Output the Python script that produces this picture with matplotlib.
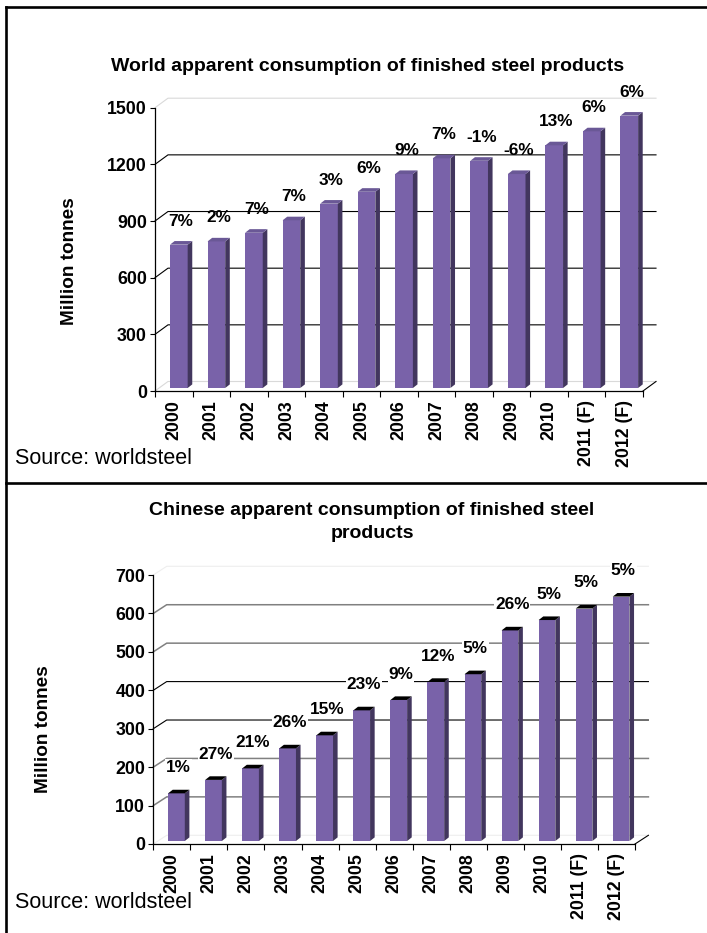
import numpy as np
import matplotlib
matplotlib.use("Agg")
import matplotlib.pyplot as plt
from matplotlib.patches import Polygon
from matplotlib.lines import Line2D

plt.rcParams["font.family"] = ["Liberation Sans", "DejaVu Sans"]

# ----- data -----
years = ["2000", "2001", "2002", "2003", "2004", "2005", "2006", "2007",
         "2008", "2009", "2010", "2011 (F)", "2012 (F)"]

world_mt = [759, 776, 822, 888, 976, 1039, 1133, 1216, 1203, 1133, 1285, 1359, 1442]
world_growth = ["7%", "2%", "7%", "7%", "3%", "6%", "9%", "7%", "-1%", "-6%",
                "13%", "6%", "6%"]
world_ticks = [0, 300, 600, 900, 1200, 1500]

china_mt = [124, 159, 189, 241, 275, 340, 367, 414, 434, 548, 575, 605, 636]
china_growth = ["1%", "27%", "21%", "26%", "15%", "23%", "9%", "12%", "5%", "26%",
                "5%", "5%", "5%"]
china_ticks = [0, 100, 200, 300, 400, 500, 600, 700]

W, H = 707, 933
fig = plt.figure(figsize=(W / 100, H / 100), dpi=100)

FRONT = "#7962a9"
SIDE = "#42365e"
LIGHT = "#d9d9d9"


def add_axes(left, top, right, bottom):
    return fig.add_axes([left / W, 1 - bottom / H, (right - left) / W, (bottom - top) / H])


def draw_panel(ax, values, growth, ticks, grid_colors, top_color, dx_px, dy_px,
               label_off, bw, label_box):
    n = len(values)
    ymax = ticks[-1]
    ax.set_xlim(-0.5, n - 0.5)
    ax.set_ylim(0, ymax)
    pos = ax.get_position()
    sx = pos.width * W / n
    sy = pos.height * H / ymax
    dx, dy = dx_px / sx, dy_px / sy

    # back wall gridlines with the little diagonals to the front axis
    for v, c in zip(ticks, grid_colors):
        lw = 1.1 if c == "#808080" else 0.8
        ax.plot([-0.5, -0.5 + dx, n - 0.5 + dx], [v, v + dy, v + dy],
                color=c, lw=lw, clip_on=False, zorder=1)
    ax.plot([n - 0.5, n - 0.5 + dx], [0, dy], color="black", lw=0.8,
            clip_on=False, zorder=1)

    # pseudo-3d bars
    base = 3 / sy
    sdx, sdy = 4.6 / sx, 3.6 / sy
    for i, (v, lbl) in enumerate(zip(values, growth)):
        x0 = i - 0.5 + 0.4
        x1 = x0 + bw
        top = base + v
        ax.add_patch(Polygon([(x0, base), (x1, base), (x1, top), (x0, top)],
                             closed=True, fc=FRONT, ec="none", zorder=3))
        ax.add_patch(Polygon([(x1, base), (x1 + sdx, base + sdy), (x1 + sdx, top + sdy), (x1, top)],
                             closed=True, fc=SIDE, ec="none", zorder=3))
        ax.add_patch(Polygon([(x0, top), (x1, top), (x1 + sdx, top + sdy), (x0 + sdx, top + sdy)],
                             closed=True, fc=top_color, ec="none", zorder=3))
        box = dict(boxstyle="square,pad=0.05", fc="white", ec="none") if label_box else None
        ax.annotate(lbl, (x0 + bw / 2 + sdx / 2, top + sdy), xytext=(0, label_off),
                    textcoords="offset pixels", ha="center", va="center",
                    fontsize=12.4, fontweight="bold", zorder=4, bbox=box,
                    annotation_clip=False)

    for s in ["top", "right"]:
        ax.spines[s].set_visible(False)
    for s in ["left", "bottom"]:
        ax.spines[s].set_color("black")
        ax.spines[s].set_linewidth(0.9)
        ax.spines[s].set_zorder(5)
    ax.set_yticks(ticks)
    ax.set_yticklabels([str(t) for t in ticks], fontsize=12.8, fontweight="bold")
    ax.tick_params(axis="y", direction="out", length=3.6, width=0.8, pad=2.2)
    ax.set_xticks(np.arange(n))
    ax.set_xticklabels(years, rotation=90, fontsize=12.8, fontweight="bold",
                       va="top", ha="center")
    ax.set_xticks(np.arange(-0.5, n, 1), minor=True)
    ax.tick_params(axis="x", which="major", length=0, pad=6.5)
    ax.tick_params(axis="x", which="minor", direction="out", length=4.3, width=0.8)
    ax.patch.set_alpha(0)


# ----- World -----
ax1 = add_axes(155, 107.7, 643, 391)
draw_panel(ax1, world_mt, world_growth, world_ticks,
           [LIGHT, "black", "black", "black", "black", LIGHT],
           "#6a5896", 13, 9.5, 20, 0.47, False)
fig.text(368 / W, 1 - 66.7 / H, "World apparent consumption of finished steel products",
         ha="center", va="center", fontsize=14, fontweight="bold")
fig.text(70 / W, 1 - 261 / H, "Million tonnes", rotation=90, ha="center", va="center",
         fontsize=13.7, fontweight="bold")
fig.text(15 / W, 1 - 459 / H, "Source: worldsteel", ha="left", va="center", fontsize=15.5)

# ----- China -----
ax2 = add_axes(153.3, 575, 635, 844)
draw_panel(ax2, china_mt, china_growth, china_ticks,
           ["#eeeeee", "#808080", "#808080", "black", "black", "#808080", "#808080", "#eeeeee"],
           "black", 13.4, 8.7, 22, 0.45, True)
fig.text(372 / W, 1 - 522 / H, "Chinese apparent consumption of finished steel\nproducts",
         ha="center", va="center", fontsize=14, fontweight="bold", linespacing=1.4)
fig.text(43 / W, 1 - 729.5 / H, "Million tonnes", rotation=90, ha="center", va="center",
         fontsize=13.7, fontweight="bold")
fig.text(15 / W, 1 - 903 / H, "Source: worldsteel", ha="left", va="center", fontsize=15.5)

# ----- frame lines -----
for xs, ys in [([6, 6], [7, H]), ([6, W], [7, 7]), ([6, W], [482.5, 482.5])]:
    fig.add_artist(Line2D([x / W for x in xs], [1 - y / H for y in ys],
                          color="black", lw=1.9, transform=fig.transFigure))

fig.savefig("out.png", dpi=100)
